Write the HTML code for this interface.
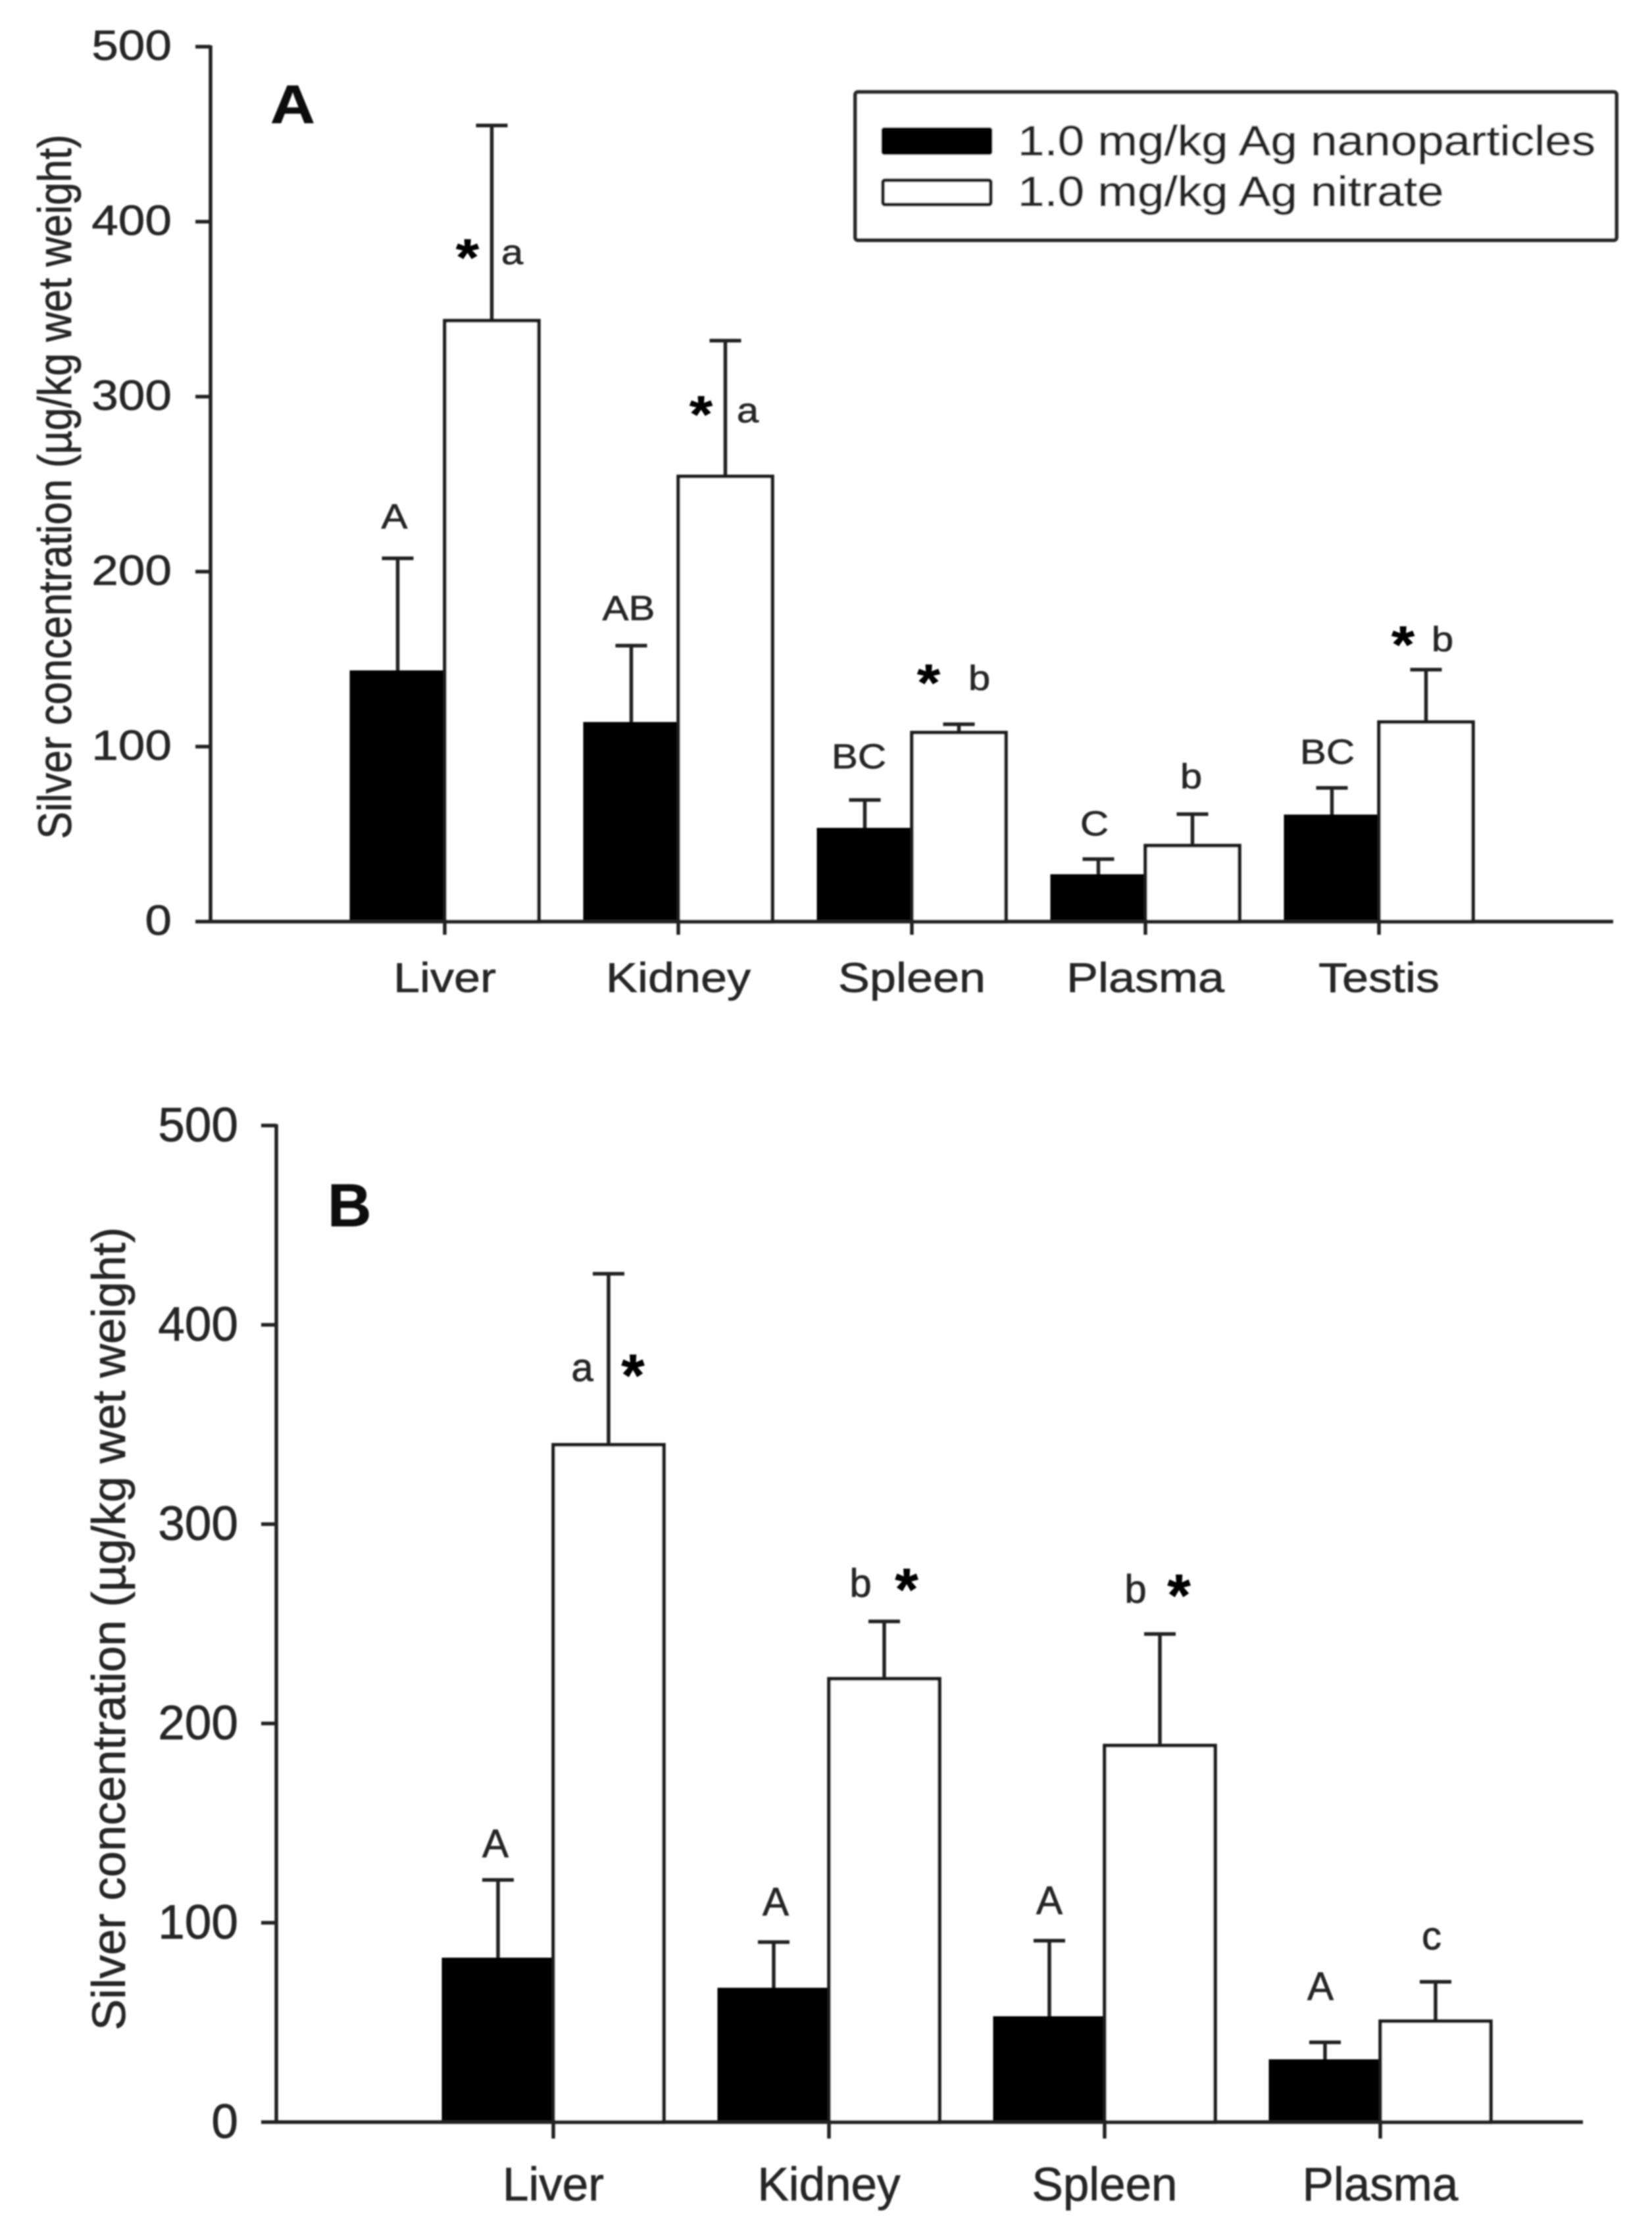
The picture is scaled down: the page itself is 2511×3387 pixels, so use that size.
<!DOCTYPE html>
<html lang="en">
<head>
<meta charset="utf-8">
<title>Silver concentration by tissue</title>
<style>
  html, body { margin: 0; padding: 0; background: #fff; }
  svg { display: block; }
  text { font-family: "Liberation Sans", sans-serif; fill: #262626; stroke: #262626; stroke-width: 0.8px; }
</style>
</head>
<body>
<svg id="chart" xmlns="http://www.w3.org/2000/svg" width="2511" height="3387" viewBox="0 0 2511 3387">
  <defs>
    <filter id="soft" x="-2%" y="-2%" width="104%" height="104%">
      <feGaussianBlur stdDeviation="1.0"/>
    </filter>
  </defs>
  <rect x="0" y="0" width="2511" height="3387" fill="#ffffff"/>
  <g id="root" filter="url(#soft)">
    <g>
      <rect x="1300" y="140" width="1157" height="225" rx="4" fill="#fff" stroke="#2a2a2a" stroke-width="6"/>
      <rect x="1341" y="195" width="166" height="39" rx="3" fill="#000" stroke="#000" stroke-width="3"/>
      <rect x="1342" y="274" width="164" height="37" rx="3" fill="#fff" stroke="#1c1c1c" stroke-width="5.5"/>
      <text transform="translate(1547,236) scale(1,0.878)" font-size="72.8">1.0 mg/kg Ag nanoparticles</text>
      <text transform="translate(1547,313) scale(1,0.878)" font-size="72.8">1.0 mg/kg Ag nitrate</text>
    </g>
  </g>
</svg>
<script>
// Shared y axis tick labels
const yTickValues = [0, 100, 200, 300, 400, 500];

// Panel A data
const categoriesA = ['Liver', 'Kidney', 'Spleen', 'Plasma', 'Testis'];
const nanoMeansA = [143, 113.5, 53, 26.5, 60.6];
const nanoErrorTopsA = [207.6, 157.7, 69.5, 35.7, 76.4];
const nitrateMeansA = [343.4, 254.4, 108, 43.4, 114];
const nitrateErrorTopsA = [455, 332, 112.8, 61.4, 144];
const nanoLettersA = ['A', 'AB', 'BC', 'C', 'BC'];
const nitrateLettersA = ['a', 'a', 'b', 'b', 'b'];
const nitrateStarsA = [true, true, true, false, true];

// Panel B data
const categoriesB = ['Liver', 'Kidney', 'Spleen', 'Plasma'];
const nanoMeansB = [82, 66.9, 52.6, 31];
const nanoErrorTopsB = [121.5, 90.3, 91, 40];
const nitrateMeansB = [339.8, 222.4, 188.9, 50.6];
const nitrateErrorTopsB = [425.6, 251.2, 244.9, 70.4];
const nanoLettersB = ['A', 'A', 'A', 'A'];
const nitrateLettersB = ['a', 'b', 'b', 'c'];
const nitrateStarsB = [true, true, true, false];

const SVG_NS = 'http://www.w3.org/2000/svg';
const root = document.getElementById('root');

function make(tag, parent, attrs) {
  const el = document.createElementNS(SVG_NS, tag);
  for (const k in attrs) el.setAttribute(k, attrs[k]);
  parent.appendChild(el);
  return el;
}

function slug(s) { return String(s).toLowerCase(); }

function drawPanel(cfg) {
  const yScale = v => cfg.y0 + (cfg.y500 - cfg.y0) * (v / 500);
  const xScale = i => cfg.c0 + cfg.step * i;
  const g = make('g', root, {});
  
  

  const txt = (x, y, str, size, extra) => {
    const t = make('text', g, Object.assign({
      transform: 'translate(' + x + ',' + y + ') scale(1,' + cfg.sy + ')',
      'font-size': size
    }, extra || {}));
    t.textContent = str;
    return t;
  };
  const line = (x1, y1, x2, y2, w, col) => make('line', g, {
    x1: x1, y1: y1, x2: x2, y2: y2, stroke: col || '#222222', 'stroke-width': w
  });

  // Bars and error bars
  cfg.categories.forEach((cat, i) => {
    const c = xScale(i);
    const name = slug(cat);

    const nanoErr = line(c - cfg.bw / 2, yScale(cfg.nanoMeans[i]), c - cfg.bw / 2, yScale(cfg.nanoTops[i]), 5.5);
    
    
    const nanoCap = line(c - cfg.bw / 2 - cfg.cap, yScale(cfg.nanoTops[i]), c - cfg.bw / 2 + cfg.cap, yScale(cfg.nanoTops[i]), 5.5);
    
    

    const nitErr = line(c + cfg.bw / 2, yScale(cfg.nitrateMeans[i]), c + cfg.bw / 2, yScale(cfg.nitrateTops[i]), 5.5);
    
    
    const nitCap = line(c + cfg.bw / 2 - cfg.cap, yScale(cfg.nitrateTops[i]), c + cfg.bw / 2 + cfg.cap, yScale(cfg.nitrateTops[i]), 5.5);
    
    

    const nanoBar = make('rect', g, {
      x: c - cfg.bw, y: yScale(cfg.nanoMeans[i]), width: cfg.bw,
      height: cfg.y0 - yScale(cfg.nanoMeans[i]), fill: '#000', stroke: '#000', 'stroke-width': 3
    });
    
    

    const nitBar = make('rect', g, {
      x: c, y: yScale(cfg.nitrateMeans[i]), width: cfg.bw,
      height: cfg.y0 - yScale(cfg.nitrateMeans[i]), fill: '#fff', stroke: '#1c1c1c', 'stroke-width': 5.5
    });
    
    

    // significance letters and stars, offset from the error-bar top
    const off = cfg.offsets[i];
    const l1 = txt(c - cfg.bw / 2 + off.nanoDx, yScale(cfg.nanoTops[i]) + off.nanoDy, cfg.nanoLetters[i], 60, { 'text-anchor': 'middle' });
    
    

    const l2 = txt(c + cfg.bw / 2 + off.nitDx, yScale(cfg.nitrateTops[i]) + off.nitDy, cfg.nitrateLetters[i], 60, { 'text-anchor': 'middle' });
    
    

    if (cfg.stars[i]) {
      const s = txt(c + cfg.bw / 2 + off.starDx, yScale(cfg.nitrateTops[i]) + off.starDy + 46, '*', 90, { 'text-anchor': 'middle', 'font-weight': 'bold' });
      s.setAttribute('style', 'fill:#000;stroke:#000');
      
      
    }

    const tick = line(c, cfg.y0, c, cfg.y0 + cfg.xTick, 5.5);
    
    

    const lab = txt(c, cfg.catBaseline, cat, cfg.catSize, { 'text-anchor': 'middle' });
    
    
  });

  // Axes
  const yAxis = line(cfg.axisX, cfg.y500 - 2, cfg.axisX, cfg.y0 + 2, 5.5);
  
  
  const xAxis = line(cfg.axisX, cfg.y0, cfg.axisEnd, cfg.y0, 5.5);
  
  

  yTickValues.forEach(v => {
    const t = line(cfg.axisX - cfg.yTick, yScale(v), cfg.axisX, yScale(v), 5.5);
    
    
    const lab = txt(cfg.tickRight, yScale(v) + cfg.tickDy, String(v), 73, { 'text-anchor': 'end' });
    
    
  });

  // Y axis title
  const title = make('text', g, {
    transform: 'translate(' + cfg.titleX + ',' + cfg.titleY + ') rotate(-90)',
    'font-size': 71, 'text-anchor': 'middle',
    textLength: cfg.titleLen, lengthAdjust: 'spacingAndGlyphs'
  });
  title.textContent = 'Silver concentration (\u00b5g/kg wet weight)';
  
  

  // Panel letter
  const pl = txt(cfg.letterX, cfg.letterY, cfg.id.toUpperCase(), cfg.letterSize, { 'font-weight': 'bold' });
  pl.setAttribute('style', 'fill:#111;stroke:#111');
  
  
}

drawPanel({
  id: 'a', sy: 0.878,
  y0: 1401, y500: 71, c0: 676, step: 355, bw: 143, cap: 24, xTick: 20, yTick: 23,
  axisX: 320, axisEnd: 2452, tickRight: 261, tickDy: 20, catBaseline: 1508, catSize: 72,
  titleX: 108, titleY: 740, titleLen: 1071, letterX: 411, letterY: 187, letterSize: 94,
  categories: categoriesA, nanoMeans: nanoMeansA, nanoTops: nanoErrorTopsA,
  nitrateMeans: nitrateMeansA, nitrateTops: nitrateErrorTopsA,
  nanoLetters: nanoLettersA, nitrateLetters: nitrateLettersA, stars: nitrateStarsA,
  offsets: [
    { nanoDx: -5, nanoDy: -46, nitDx: 31, nitDy: 211, starDx: -37, starDy: 182 },
    { nanoDx: -4, nanoDy: -39, nitDx: 34, nitDy: 124, starDx: -37, starDy: 93 },
    { nanoDx: -9, nanoDy: -48, nitDx: 31, nitDy: -52, starDx: -46, starDy: -82 },
    { nanoDx: -6, nanoDy: -36, nitDx: -2, nitDy: -39, starDx: 0, starDy: 0 },
    { nanoDx: -7, nanoDy: -37, nitDx: 25, nitDy: -28, starDx: -35, starDy: -57 }
  ]
});

drawPanel({
  id: 'b', sy: 1,
  y0: 3226, y500: 1711, c0: 841, step: 419, bw: 168, cap: 24, xTick: 25, yTick: 23,
  axisX: 420, axisEnd: 2406, tickRight: 362, tickDy: 24, catBaseline: 3345, catSize: 71,
  titleX: 190, titleY: 2476, titleLen: 1221, letterX: 498, letterY: 1864, letterSize: 92,
  categories: categoriesB, nanoMeans: nanoMeansB, nanoTops: nanoErrorTopsB,
  nitrateMeans: nitrateMeansB, nitrateTops: nitrateErrorTopsB,
  nanoLetters: nanoLettersB, nitrateLetters: nitrateLettersB, stars: nitrateStarsB,
  offsets: [
    { nanoDx: -4, nanoDy: -35, nitDx: -40, nitDy: 163, starDx: 37, starDy: 139 },
    { nanoDx: 3, nanoDy: -41, nitDx: -36, nitDy: -38, starDx: 34, starDy: -64 },
    { nanoDx: 0, nanoDy: -41, nitDx: -37, nitDy: -48, starDx: 29, starDy: -74 },
    { nanoDx: -7, nanoDy: -65, nitDx: -6, nitDy: -49, starDx: 0, starDy: 0 }
  ]
});
</script>
</body>
</html>
